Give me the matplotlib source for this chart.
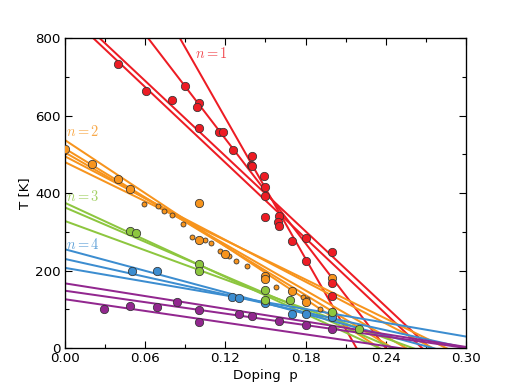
import matplotlib
matplotlib.use('Agg')
import numpy as np
import matplotlib.pyplot as plt

plt.rcParams['font.family'] = 'DejaVu Sans'
plt.rcParams['font.size'] = 12
plt.rcParams['mathtext.fontset'] = 'cm'
plt.rcParams['xtick.direction'] = 'in'
plt.rcParams['ytick.direction'] = 'in'

# colours for n = 1..4 and the extra (purple) set
c_red = '#ed1c24'
c_orange = '#f7941d'
c_green = '#8dc63f'
c_blue = '#3c8dd0'
c_purple = '#92278f'

# fitted lines: T(p) = T0 * (1 - p / pc)
red_T0 = [869, 884, 1080, 1321]
red_pc = [0.267, 0.273, 0.240, 0.218]
orange_T0 = [537, 515, 505, 495, 480]
orange_pc = [0.235, 0.245, 0.255, 0.275, 0.285]
green_T0 = [375, 363, 328]
green_pc = [0.235, 0.245, 0.260]
blue_T0 = [255, 230, 207]
blue_pc = [0.275, 0.300, 0.350]
purple_T0 = [167, 148, 126]
purple_pc = [0.305, 0.300, 0.250]

# data points
red_p = [0.040, 0.061, 0.080, 0.090, 0.100, 0.099, 0.100, 0.115, 0.118, 0.126,
         0.140, 0.139, 0.140, 0.149, 0.150, 0.150, 0.150, 0.160, 0.159, 0.160,
         0.170, 0.180, 0.180, 0.200, 0.200, 0.200]
red_T = [732, 664, 641, 677, 633, 621, 569, 558, 557, 512,
         495, 472, 470, 445, 415, 393, 339, 342, 326, 315,
         277, 285, 225, 247, 169, 135]

orange_big_p = [0.000, 0.020, 0.040, 0.049, 0.100, 0.100, 0.120, 0.150, 0.150,
                0.170, 0.180, 0.200]
orange_big_T = [513, 474, 435, 410, 373, 279, 243, 187, 177, 147, 118, 180]
orange_small_p = [0.059, 0.070, 0.074, 0.080, 0.088, 0.095, 0.105, 0.109, 0.116,
                  0.123, 0.128, 0.136, 0.158, 0.178, 0.181, 0.191]
orange_small_T = [372, 367, 353, 343, 319, 287, 279, 272, 251,
                  237, 224, 212, 158, 132, 126, 102]

green_p = [0.049, 0.053, 0.100, 0.100, 0.150, 0.150, 0.168, 0.200, 0.220]
green_T = [302, 298, 216, 199, 150, 124, 123, 92, 48]

blue_p = [0.050, 0.069, 0.125, 0.130, 0.150, 0.150, 0.170, 0.180, 0.200]
blue_T = [199, 199, 132, 128, 122, 117, 89, 89, 81]

purple_p = [0.029, 0.049, 0.069, 0.084, 0.100, 0.100, 0.130, 0.140, 0.160,
            0.180, 0.200]
purple_T = [100, 109, 105, 118, 98, 66, 89, 83, 70, 59, 49]

labels = ['$n=1$', '$n=2$', '$n=3$', '$n=4$']
label_p = [0.097, 0.001, 0.001, 0.001]
label_T = [761, 560, 390, 266]

fig = plt.figure(figsize=(6.475, 4.85), dpi=80)
ax = fig.add_axes([0.125, 0.103, 0.775, 0.799])

pp = np.linspace(0, 0.3, 301)
line_sets = [(red_T0, red_pc, c_red), (orange_T0, orange_pc, c_orange),
             (green_T0, green_pc, c_green), (blue_T0, blue_pc, c_blue),
             (purple_T0, purple_pc, c_purple)]
for T0s, pcs, col in line_sets:
    for T0, pc in zip(T0s, pcs):
        ax.plot(pp, T0 * (1 - pp / pc), color=col, lw=1.8, zorder=2)

mk = dict(marker='o', ls='none', mec='#333333', mew=0.7, zorder=3)
ax.plot(purple_p, purple_T, color=c_purple, ms=7.5, **mk)
ax.plot(blue_p, blue_T, color=c_blue, ms=7.5, **mk)
ax.plot(green_p, green_T, color=c_green, ms=7.5, **mk)
ax.plot(orange_small_p, orange_small_T, color=c_orange, ms=4.5, **mk)
ax.plot(orange_big_p, orange_big_T, color=c_orange, ms=7.5, **mk)
ax.plot(red_p, red_T, color=c_red, ms=7.5, **mk)

label_cols = [c_red, c_orange, c_green, c_blue]
for s, x, y, col in zip(labels, label_p, label_T, label_cols):
    ax.text(x, y, s, color=col, fontsize=13, alpha=0.8, va='center', zorder=4)

ax.set_xlim(0, 0.3)
ax.set_ylim(0, 800)
ax.set_xticks([0.0, 0.06, 0.12, 0.18, 0.24, 0.30])
ax.set_xticklabels(['0.00', '0.06', '0.12', '0.18', '0.24', '0.30'])
ax.set_xticks(np.arange(0.03, 0.3, 0.06), minor=True)
ax.set_yticks([0, 200, 400, 600, 800])
ax.set_yticks([100, 300, 500, 700], minor=True)
ax.tick_params(which='both', top=True, right=True, width=1)
ax.tick_params(which='major', length=6)
ax.tick_params(which='minor', length=4)
for s in ax.spines.values():
    s.set_linewidth(1.2)
ax.set_xlabel('Doping  p')
ax.set_ylabel('T [K]')

fig.savefig('out.png', dpi=80)
